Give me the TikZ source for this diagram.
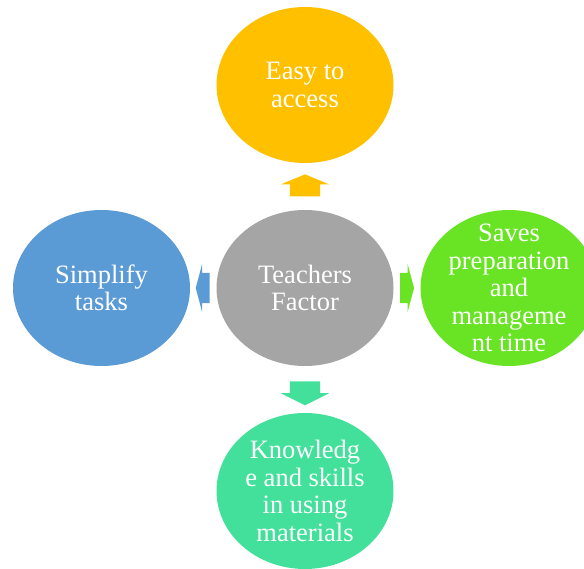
\documentclass[tikz,border=0pt]{standalone}
\usepackage{fontspec}
\setmainfont{Liberation Serif}
\usetikzlibrary{shapes.geometric,shapes.arrows,calc}
\definecolor{cyellow}{HTML}{FFC000}
\definecolor{cgray}{HTML}{A5A5A5}
\definecolor{cblue}{HTML}{5B9BD5}
\definecolor{cgreen}{HTML}{68E424}
\definecolor{cteal}{HTML}{42E09B}
\begin{document}
\begin{tikzpicture}[x=1pt,y=-1pt,
  bubble/.style={ellipse, minimum width=177pt, minimum height=156pt, inner sep=0pt},
  btext/.style={text=white, align=center, inner sep=0pt, font=\fontsize{26.5}{27.5}\selectfont},
  barrow/.style={single arrow, inner xsep=0pt, inner ysep=15pt, single arrow head extend=9pt}]
\useasboundingbox (0,0) rectangle (584,569);
\node[bubble, fill=cgray]   (c) at (305,288) {};
\node[bubble, fill=cyellow] (t) at (305,85) {};
\node[bubble, fill=cblue]   (l) at (101.5,288) {};
\node[bubble, fill=cgreen]  (r) at (509,288) {};
\node[bubble, fill=cteal]   (b) at (305,491) {};
\node[btext] (ct) at (c) {Teachers\\Factor};
\node[btext] (tt) at (t) {Easy to\\access};
\node[btext] (lt) at (l) {Simplify\\tasks};
\node[btext] (rt) at (r) {Saves\\preparation\\and\\manageme\\nt time};
\node[btext] (bt) at (b) {Knowledg\\e and skills\\in using\\materials};
\node[barrow, fill=cyellow, minimum height=22pt, single arrow tip angle=135, rotate=90] (at) at ($(c)!0.5!(t)+(0,2)$) {};
\node[barrow, fill=cblue, minimum height=14pt, single arrow tip angle=150, rotate=180] (al) at ($(c)!0.5!(l)+(1.5,0)$) {};
\node[barrow, fill=cgreen, minimum height=14pt, single arrow tip angle=150] (ar) at ($(c)!0.5!(r)+(-2,0)$) {};
\node[barrow, fill=cteal, minimum height=24pt, single arrow tip angle=127, rotate=-90] (ab) at ($(c)!0.5!(b)$) {};
\end{tikzpicture}
\end{document}
